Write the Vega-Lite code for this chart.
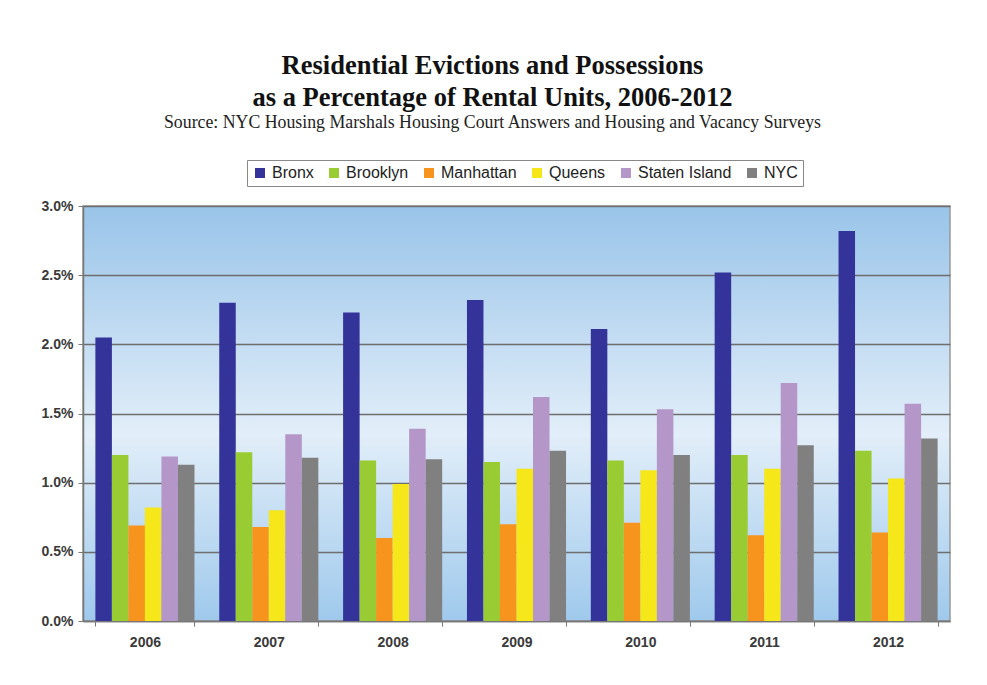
{
  "$schema": "https://vega.github.io/schema/vega-lite/v6.json",
  "width": 867,
  "height": 415,
  "autosize": {"type": "none"},
  "padding": {"left": 83, "top": 206, "right": 37, "bottom": 64},
  "background": "white",
  "title": {
    "text": ["Residential Evictions and Possessions", "as a Percentage of Rental Units, 2006-2012"],
    "subtitle": "Source: NYC Housing Marshals Housing Court Answers and Housing and Vacancy Surveys",
    "anchor": "middle",
    "frame": "group",
    "dx": -24,
    "offset": 28,
    "font": "Liberation Serif",
    "fontSize": 26.5,
    "fontWeight": "bold",
    "lineHeight": 32,
    "color": "#111",
    "subtitleFont": "Liberation Serif",
    "subtitleFontSize": 17.8,
    "subtitleColor": "#222",
    "subtitlePadding": 2
  },
  "data": {
    "values": [
      {"year": "2006", "borough": "Bronx", "pct": 2.05},
      {"year": "2007", "borough": "Bronx", "pct": 2.30},
      {"year": "2008", "borough": "Bronx", "pct": 2.23},
      {"year": "2009", "borough": "Bronx", "pct": 2.32},
      {"year": "2010", "borough": "Bronx", "pct": 2.11},
      {"year": "2011", "borough": "Bronx", "pct": 2.52},
      {"year": "2012", "borough": "Bronx", "pct": 2.82},
      {"year": "2006", "borough": "Brooklyn", "pct": 1.20},
      {"year": "2007", "borough": "Brooklyn", "pct": 1.22},
      {"year": "2008", "borough": "Brooklyn", "pct": 1.16},
      {"year": "2009", "borough": "Brooklyn", "pct": 1.15},
      {"year": "2010", "borough": "Brooklyn", "pct": 1.16},
      {"year": "2011", "borough": "Brooklyn", "pct": 1.20},
      {"year": "2012", "borough": "Brooklyn", "pct": 1.23},
      {"year": "2006", "borough": "Manhattan", "pct": 0.69},
      {"year": "2007", "borough": "Manhattan", "pct": 0.68},
      {"year": "2008", "borough": "Manhattan", "pct": 0.60},
      {"year": "2009", "borough": "Manhattan", "pct": 0.70},
      {"year": "2010", "borough": "Manhattan", "pct": 0.71},
      {"year": "2011", "borough": "Manhattan", "pct": 0.62},
      {"year": "2012", "borough": "Manhattan", "pct": 0.64},
      {"year": "2006", "borough": "Queens", "pct": 0.82},
      {"year": "2007", "borough": "Queens", "pct": 0.80},
      {"year": "2008", "borough": "Queens", "pct": 0.99},
      {"year": "2009", "borough": "Queens", "pct": 1.10},
      {"year": "2010", "borough": "Queens", "pct": 1.09},
      {"year": "2011", "borough": "Queens", "pct": 1.10},
      {"year": "2012", "borough": "Queens", "pct": 1.03},
      {"year": "2006", "borough": "Staten Island", "pct": 1.19},
      {"year": "2007", "borough": "Staten Island", "pct": 1.35},
      {"year": "2008", "borough": "Staten Island", "pct": 1.39},
      {"year": "2009", "borough": "Staten Island", "pct": 1.62},
      {"year": "2010", "borough": "Staten Island", "pct": 1.53},
      {"year": "2011", "borough": "Staten Island", "pct": 1.72},
      {"year": "2012", "borough": "Staten Island", "pct": 1.57},
      {"year": "2006", "borough": "NYC", "pct": 1.13},
      {"year": "2007", "borough": "NYC", "pct": 1.18},
      {"year": "2008", "borough": "NYC", "pct": 1.17},
      {"year": "2009", "borough": "NYC", "pct": 1.23},
      {"year": "2010", "borough": "NYC", "pct": 1.20},
      {"year": "2011", "borough": "NYC", "pct": 1.27},
      {"year": "2012", "borough": "NYC", "pct": 1.32}
    ]
  },
  "mark": {"type": "bar"},
  "encoding": {
    "x": {
      "field": "year",
      "type": "nominal",
      "scale": {"paddingInner": 0.2, "paddingOuter": 0.1},
      "axis": {
        "title": null,
        "labelAngle": 0,
        "tickBand": "extent",
        "tickSize": 5,
        "tickColor": "#777",
        "domainColor": "#777",
        "domainWidth": 1.5,
        "labelPadding": 9,
        "labelFont": "Liberation Sans",
        "labelFontSize": 14,
        "labelFontWeight": "bold",
        "labelColor": "#3a3a3a",
        "grid": false
      }
    },
    "xOffset": {
      "field": "borough",
      "type": "nominal",
      "sort": ["Bronx", "Brooklyn", "Manhattan", "Queens", "Staten Island", "NYC"],
      "scale": {"paddingInner": 0, "paddingOuter": 0}
    },
    "y": {
      "field": "pct",
      "type": "quantitative",
      "scale": {"domain": [0, 3], "nice": false},
      "axis": {
        "title": null,
        "values": [0, 0.5, 1, 1.5, 2, 2.5, 3],
        "labelExpr": "format(datum.value, '.1f') + '%'",
        "tickSize": 5,
        "tickColor": "#777",
        "domainColor": "#777",
        "domainWidth": 1.5,
        "labelPadding": 5,
        "labelFont": "Liberation Sans",
        "labelFontSize": 14,
        "labelFontWeight": "bold",
        "labelColor": "#3a3a3a",
        "grid": true,
        "gridColor": "#6e6e6e",
        "gridWidth": 1.5
      }
    },
    "color": {
      "field": "borough",
      "type": "nominal",
      "sort": ["Bronx", "Brooklyn", "Manhattan", "Queens", "Staten Island", "NYC"],
      "scale": {
        "domain": ["Bronx", "Brooklyn", "Manhattan", "Queens", "Staten Island", "NYC"],
        "range": ["#333399", "#99cc33", "#f7941d", "#f5e71a", "#b496c8", "#808080"]
      },
      "legend": {
        "title": null,
        "orient": "none",
        "legendX": 164,
        "legendY": -46,
        "direction": "horizontal",
        "symbolType": "square",
        "symbolSize": 100,
        "symbolStrokeWidth": 0,
        "labelFont": "Liberation Sans",
        "labelFontSize": 16,
        "labelColor": "#222",
        "labelOffset": 4,
        "columnPadding": 12,
        "padding": 5,
        "strokeColor": "#888",
        "fillColor": "white"
      }
    }
  },
  "config": {
    "view": {
      "stroke": "#999",
      "strokeWidth": 1.5,
      "fill": {
        "gradient": "linear",
        "x1": 0, "y1": 0, "x2": 0, "y2": 1,
        "stops": [
          {"offset": 0, "color": "#99c4e9"},
          {"offset": 0.55, "color": "#e2eef9"},
          {"offset": 1, "color": "#9fc9ec"}
        ]
      }
    }
  }
}
